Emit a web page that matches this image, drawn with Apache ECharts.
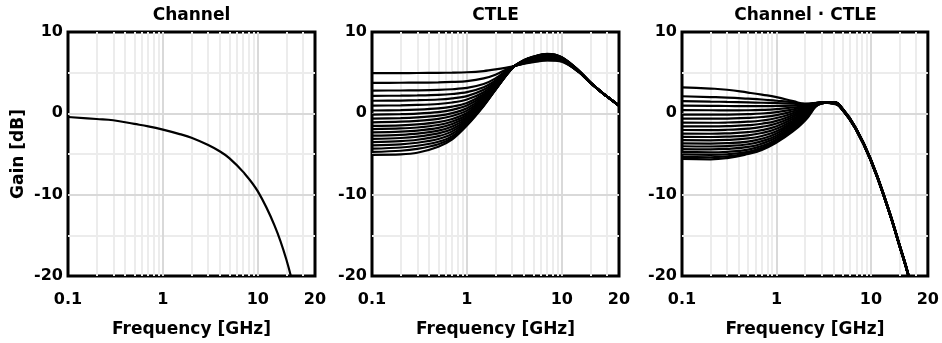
<!DOCTYPE html>
<html>
<head>
<meta charset="utf-8">
<title>Channel / CTLE gain</title>
<script src="https://cdn.jsdelivr.net/npm/echarts@6/dist/echarts.min.js"></script>
<style>
  html, body { margin: 0; padding: 0; background: #fff; }
  #chart { width: 942px; height: 343px; }
</style>
</head>
<body>
<div id="chart"></div>
<script>
// frequency points (GHz) used by every curve
var freqs = [0.1, 0.2, 0.3, 0.5, 0.7, 1, 1.5, 2, 3, 4, 5, 7, 10, 15, 20, 25, 30, 40]

// gain in dB
var channelGain = [-0.45, -0.7, -0.85, -1.3, -1.6, -2.0, -2.55, -3.0, -3.9, -4.7, -5.5, -7.2, -9.6, -13.8, -18.0, -22.5, null, null]

var ctleGain = [
  [4.95, 4.95, 4.96, 4.98, 5.0, 5.05, 5.2, 5.4, 5.75, 6.1, 6.3, 6.5, 6.35, 5.1, 3.75, 2.8, 2.05, 0.95],
  [3.75, 3.76, 3.77, 3.8, 3.86, 3.97, 4.3, 4.75, 5.72, 6.15, 6.35, 6.55, 6.4, 5.1, 3.75, 2.8, 2.05, 0.95],
  [2.8, 2.81, 2.83, 2.88, 2.96, 3.12, 3.6, 4.3, 5.7, 6.18, 6.4, 6.6, 6.45, 5.12, 3.76, 2.8, 2.05, 0.95],
  [2.15, 2.17, 2.2, 2.27, 2.38, 2.6, 3.2, 4.05, 5.68, 6.2, 6.45, 6.65, 6.48, 5.13, 3.76, 2.8, 2.05, 0.95],
  [1.55, 1.57, 1.61, 1.7, 1.84, 2.12, 2.9, 3.85, 5.67, 6.23, 6.5, 6.7, 6.52, 5.14, 3.76, 2.8, 2.05, 0.95],
  [0.95, 0.98, 1.03, 1.15, 1.33, 1.7, 2.6, 3.7, 5.66, 6.25, 6.55, 6.75, 6.56, 5.15, 3.77, 2.8, 2.05, 0.95],
  [0.35, 0.39, 0.45, 0.6, 0.83, 1.28, 2.35, 3.55, 5.65, 6.28, 6.6, 6.8, 6.6, 5.16, 3.77, 2.8, 2.05, 0.95],
  [-0.15, -0.1, -0.03, 0.15, 0.42, 0.95, 2.15, 3.45, 5.64, 6.3, 6.64, 6.85, 6.63, 5.17, 3.77, 2.8, 2.05, 0.95],
  [-0.65, -0.59, -0.5, -0.29, 0.02, 0.62, 1.95, 3.35, 5.63, 6.33, 6.68, 6.9, 6.66, 5.18, 3.78, 2.8, 2.05, 0.95],
  [-1.1, -1.03, -0.93, -0.68, -0.33, 0.33, 1.8, 3.28, 5.62, 6.35, 6.72, 6.95, 6.69, 5.19, 3.78, 2.8, 2.05, 0.95],
  [-1.55, -1.47, -1.36, -1.08, -0.69, 0.04, 1.65, 3.2, 5.61, 6.38, 6.75, 7.0, 6.72, 5.2, 3.78, 2.8, 2.05, 0.95],
  [-1.95, -1.86, -1.74, -1.43, -1.0, -0.2, 1.52, 3.14, 5.6, 6.4, 6.78, 7.05, 6.74, 5.21, 3.78, 2.8, 2.05, 0.95],
  [-2.35, -2.25, -2.12, -1.78, -1.31, -0.44, 1.4, 3.08, 5.6, 6.42, 6.81, 7.1, 6.76, 5.22, 3.79, 2.8, 2.05, 0.95],
  [-2.75, -2.64, -2.5, -2.13, -1.62, -0.62, 1.3, 3.04, 5.59, 6.44, 6.84, 7.14, 6.78, 5.23, 3.79, 2.8, 2.05, 0.95],
  [-3.15, -3.03, -2.87, -2.47, -1.92, -0.8, 1.22, 3.0, 5.58, 6.46, 6.87, 7.18, 6.8, 5.24, 3.79, 2.8, 2.05, 0.95],
  [-3.55, -3.42, -3.25, -2.81, -2.22, -0.97, 1.14, 2.97, 5.58, 6.48, 6.89, 7.21, 6.82, 5.25, 3.8, 2.8, 2.05, 0.95],
  [-3.95, -3.81, -3.62, -3.15, -2.51, -1.13, 1.06, 2.95, 5.57, 6.5, 6.91, 7.24, 6.84, 5.26, 3.8, 2.8, 2.05, 0.95],
  [-4.35, -4.2, -3.99, -3.49, -2.8, -1.27, 1.0, 2.93, 5.56, 6.52, 6.93, 7.27, 6.86, 5.27, 3.8, 2.8, 2.05, 0.95],
  [-4.75, -4.6, -4.37, -3.8, -3.02, -1.4, 0.95, 2.91, 5.56, 6.54, 6.95, 7.29, 6.88, 5.28, 3.8, 2.8, 2.05, 0.95],
  [-5.1, -5.05, -4.85, -4.1, -3.2, -1.5, 0.9, 2.9, 5.55, 6.55, 6.97, 7.31, 6.9, 5.3, 3.8, 2.8, 2.05, 0.95]
]

var comboGain = [
  [3.2, 3.05, 2.9, 2.55, 2.3, 2.0, 1.5, 1.2, 1.33, 1.2, 0.4, -2.1, -5.9, -11.6, -16.3, -20.1, -24, null],
  [2.1, 2.0, 1.93, 1.8, 1.7, 1.55, 1.35, 1.15, 1.33, 1.21, 0.41, -2.09, -5.89, -11.59, -16.29, -20.09, -24, null],
  [1.5, 1.45, 1.4, 1.35, 1.3, 1.25, 1.2, 1.1, 1.33, 1.22, 0.42, -2.08, -5.88, -11.58, -16.28, -20.08, -24, null],
  [0.95, 0.92, 0.9, 0.88, 0.88, 0.9, 0.95, 1.0, 1.33, 1.23, 0.43, -2.07, -5.87, -11.57, -16.27, -20.07, -24, null],
  [0.4, 0.38, 0.37, 0.38, 0.42, 0.52, 0.72, 0.88, 1.32, 1.24, 0.44, -2.06, -5.86, -11.56, -16.26, -20.06, -24, null],
  [-0.15, -0.16, -0.15, -0.1, -0.02, 0.15, 0.48, 0.78, 1.32, 1.25, 0.45, -2.05, -5.85, -11.55, -16.25, -20.05, -24, null],
  [-0.65, -0.66, -0.64, -0.57, -0.45, -0.22, 0.25, 0.66, 1.32, 1.26, 0.46, -2.04, -5.84, -11.54, -16.24, -20.04, -24, null],
  [-1.15, -1.16, -1.13, -1.03, -0.88, -0.58, 0.02, 0.55, 1.31, 1.27, 0.47, -2.03, -5.83, -11.53, -16.23, -20.03, -24, null],
  [-1.6, -1.61, -1.58, -1.46, -1.28, -0.92, -0.2, 0.45, 1.31, 1.28, 0.48, -2.02, -5.82, -11.52, -16.22, -20.02, -24, null],
  [-2.05, -2.06, -2.02, -1.89, -1.67, -1.25, -0.42, 0.35, 1.3, 1.29, 0.49, -2.01, -5.81, -11.51, -16.21, -20.01, -24, null],
  [-2.5, -2.51, -2.46, -2.31, -2.06, -1.58, -0.64, 0.25, 1.3, 1.3, 0.5, -2.0, -5.8, -11.5, -16.2, -20.0, -24, null],
  [-2.9, -2.91, -2.86, -2.7, -2.42, -1.9, -0.86, 0.15, 1.29, 1.31, 0.51, -1.99, -5.79, -11.49, -16.19, -19.99, -24, null],
  [-3.3, -3.32, -3.27, -3.09, -2.78, -2.2, -1.06, 0.05, 1.28, 1.32, 0.52, -1.98, -5.78, -11.48, -16.18, -19.98, -24, null],
  [-3.7, -3.72, -3.67, -3.47, -3.12, -2.48, -1.26, -0.05, 1.27, 1.33, 0.53, -1.97, -5.77, -11.47, -16.17, -19.97, -24, null],
  [-4.05, -4.08, -4.02, -3.8, -3.42, -2.74, -1.45, -0.15, 1.26, 1.34, 0.54, -1.96, -5.76, -11.46, -16.16, -19.96, -24, null],
  [-4.4, -4.44, -4.38, -4.13, -3.72, -2.98, -1.63, -0.3, 1.25, 1.35, 0.55, -1.95, -5.75, -11.45, -16.15, -19.95, -24, null],
  [-4.75, -4.8, -4.73, -4.46, -4.0, -3.2, -1.8, -0.45, 1.24, 1.36, 0.56, -1.94, -5.74, -11.44, -16.14, -19.94, -24, null],
  [-5.05, -5.1, -5.03, -4.73, -4.22, -3.36, -1.95, -0.6, 1.23, 1.37, 0.57, -1.93, -5.73, -11.43, -16.13, -19.93, -24, null],
  [-5.35, -5.4, -5.3, -4.88, -4.38, -3.5, -2.08, -0.76, 1.22, 1.38, 0.58, -1.92, -5.72, -11.42, -16.12, -19.92, -24, null],
  [-5.6, -5.65, -5.5, -5.0, -4.5, -3.6, -2.2, -0.9, 1.21, 1.39, 0.59, -1.91, -5.71, -11.41, -16.11, -19.91, -24, null]
]

var panelTitles = ['Channel', 'CTLE', 'Channel \u00b7 CTLE']
var xTickValues = [0.1, 1, 10, 40]
var xTickText = ['0.1', '1', '10', '20']
var minorFreqs = [0.2, 0.3, 0.4, 0.5, 0.6, 0.7, 0.8, 0.9, 2, 3, 4, 5, 6, 7, 8, 9, 20, 30]
var majorFreqs = [1, 10]
var minorGains = [5, -5, -15]
var majorGains = [0, -10]

var FONT = '"DejaVu Sans", sans-serif'
var gridLeft = [68, 372, 682]
var gridWidth = 247
var gridTop = 32
var gridHeight = 245
var smoothness = [0.4, 0.3, 0.5]

function tickText(v) {
  var best = 0
  for (var i = 1; i < xTickValues.length; i++) {
    if (Math.abs(Math.log(v / xTickValues[i])) < Math.abs(Math.log(v / xTickValues[best]))) best = i
  }
  return xTickText[best]
}

function gridLines(idx) {
  var data = []
  minorFreqs.forEach(function(f) { data.push({ xAxis: f }) })
  minorGains.forEach(function(g) { data.push({ yAxis: g }) })
  majorFreqs.forEach(function(f) { data.push({ xAxis: f, lineStyle: { color: '#d9d9d9' } }) })
  majorGains.forEach(function(g) { data.push({ yAxis: g, lineStyle: { color: '#d9d9d9' } }) })
  return {
    type: 'line',
    xAxisIndex: idx,
    yAxisIndex: idx,
    data: [],
    silent: true,
    z: 1,
    markLine: {
      silent: true,
      symbol: 'none',
      animation: false,
      z: 1,
      label: { show: false },
      emphasis: { disabled: true },
      lineStyle: { color: '#ececec', width: 2, type: 'solid' },
      data: data
    }
  }
}

function curve(idx, values) {
  return {
    type: 'line',
    xAxisIndex: idx,
    yAxisIndex: idx,
    data: freqs.map(function(f, i) { return [f, values[i]] }),
    showSymbol: false,
    smooth: smoothness[idx],
    silent: true,
    z: 10,
    lineStyle: { color: '#000', width: 2.2 }
  }
}

var grids = []
var xAxes = []
var yAxes = []
var titles = []
var series = []

for (var p = 0; p < 3; p++) {
  grids.push({
    left: gridLeft[p], top: gridTop, width: gridWidth, height: gridHeight,
    show: true, borderColor: '#000', borderWidth: 3, backgroundColor: 'transparent'
  })
  xAxes.push({
    gridIndex: p,
    type: 'log',
    logBase: 10,
    min: 0.1,
    max: 40,
    name: 'Frequency [GHz]',
    nameLocation: 'middle',
    nameGap: 45,
    nameTextStyle: { fontFamily: FONT, fontWeight: 'bold', fontSize: 17, color: '#000' },
    axisLine: { show: false },
    axisTick: { show: false },
    splitLine: { show: false },
    axisLabel: {
      margin: 16, fontFamily: FONT, fontWeight: 'bold', fontSize: 16, color: '#000',
      showMinLabel: true, showMaxLabel: true,
      formatter: tickText
    }
  })
  yAxes.push({
    gridIndex: p,
    type: 'value',
    min: -20,
    max: 10,
    interval: 10,
    name: p === 0 ? 'Gain [dB]' : '',
    nameLocation: 'middle',
    nameGap: 41,
    nameTextStyle: { fontFamily: FONT, fontWeight: 'bold', fontSize: 17, color: '#000' },
    axisLine: { show: false },
    axisTick: { show: false },
    splitLine: { show: false },
    axisLabel: { margin: 5, fontFamily: FONT, fontWeight: 'bold', fontSize: 16, color: '#000' }
  })
  titles.push({
    text: panelTitles[p],
    left: gridLeft[p] + gridWidth / 2,
    top: 7,
    padding: 0,
    textAlign: 'center',
    textStyle: { fontFamily: FONT, fontWeight: 'bold', fontSize: 17, color: '#000' }
  })
  series.push(gridLines(p))
}

series.push(curve(0, channelGain))
ctleGain.forEach(function(c) { series.push(curve(1, c)) })
comboGain.forEach(function(c) { series.push(curve(2, c)) })

var chart = echarts.init(document.getElementById('chart'), null, { renderer: 'canvas' })
chart.setOption({
  animation: false,
  backgroundColor: '#fff',
  title: titles,
  grid: grids,
  xAxis: xAxes,
  yAxis: yAxes,
  series: series
})
</script>
</body>
</html>
